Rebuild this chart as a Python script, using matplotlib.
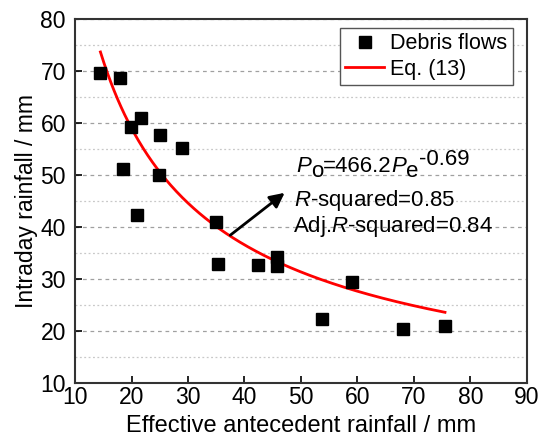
import numpy as np
import matplotlib
matplotlib.use("Agg")
import matplotlib.pyplot as plt
from matplotlib.ticker import MultipleLocator
from matplotlib.transforms import IdentityTransform

plt.rcParams['font.family'] = ['Liberation Sans', 'DejaVu Sans']
plt.rcParams['mathtext.fontset'] = 'custom'
plt.rcParams['mathtext.rm'] = 'Liberation Sans'
plt.rcParams['mathtext.it'] = 'Liberation Sans:italic'

# Data: effective antecedent rainfall (mm) vs intraday rainfall (mm)
pe = [14.4, 18.0, 19.9, 21.6, 25.0, 28.9, 18.5, 24.9, 20.9, 34.9,
      35.3, 42.4, 45.7, 45.7, 53.8, 59.0, 68.0, 75.5]
po = [69.6, 68.7, 59.3, 60.9, 57.7, 55.1, 51.1, 50.0, 42.3, 41.0,
      32.8, 32.6, 34.3, 32.5, 22.4, 29.5, 20.4, 21.0]

# Eq. (13): Po = a * Pe^b
a_coef = 466.2
b_coef = -0.69
fit_range = (14.5, 75.5)

fig = plt.figure(figsize=(5.46, 4.42), dpi=100)
ax = fig.add_axes([0.1374, 0.1335, 0.965 - 0.1374, 0.957 - 0.1335])

xf = np.linspace(fit_range[0], fit_range[1], 300)
yf = a_coef * xf ** b_coef

ax.plot(pe, po, 's', color='black', markersize=8, label='Debris flows', zorder=3)
ax.plot(xf, yf, '-', color='#ff0000', lw=2, label='Eq. (13)', zorder=2)

ax.set_xlim(10, 90)
ax.set_ylim(10, 80)
ax.xaxis.set_major_locator(MultipleLocator(10))
ax.yaxis.set_major_locator(MultipleLocator(10))
ax.yaxis.set_minor_locator(MultipleLocator(5))

ax.grid(axis='y', which='major', color='#a0a0a0', linestyle=(0, (3, 3)), lw=0.9, zorder=0)
ax.grid(axis='y', which='minor', color='#c8c8c8', linestyle=(0, (1.5, 2)), lw=0.9, zorder=0)
ax.tick_params(axis='both', which='major', direction='in', length=5, width=1.2,
               labelsize=16.5, colors='black', top=False, right=False)
ax.tick_params(axis='x', which='major', pad=2.5)
ax.tick_params(axis='y', which='major', pad=6.5)
ax.tick_params(axis='y', which='minor', length=0)
for s in ax.spines.values():
    s.set_color('#333333')
    s.set_linewidth(1.5)

ax.set_xlabel('Effective antecedent rainfall / mm', fontsize=17, labelpad=4)
ax.set_ylabel('Intraday rainfall / mm', fontsize=16.5, labelpad=2)

leg = ax.legend(loc='upper right', bbox_to_anchor=(0.969, 0.975), fontsize=15.5,
                frameon=True, fancybox=False, edgecolor='#555555', framealpha=1,
                handlelength=1.8, borderpad=0.25, labelspacing=0.2,
                handletextpad=0.3, borderaxespad=0.0)
leg.get_frame().set_linewidth(1.0)

ax.annotate('', xy=(47.5, 46.9), xytext=(37.1, 38.1),
            arrowprops=dict(arrowstyle='-|>', color='black', lw=2, mutation_scale=22))

ann_fs = 16
ax.text(48.8, 44.0, r'$\mathit{R}$-squared=0.85', fontsize=ann_fs, va='baseline', ha='left')
ax.text(48.6, 39.1, r'Adj.$\mathit{R}$-squared=0.84', fontsize=ann_fs, va='baseline', ha='left')

# Equation composed of pieces (sub/superscripts at full size, as in the reference)
fig.canvas.draw()
renderer = fig.canvas.get_renderer()
x0, y0 = ax.transData.transform((49.1, 50.5))
eq_parts = [('P', 'italic', 0.0), ('o', 'normal', -4.5), ('=466.2', 'normal', 0.0),
            ('P', 'italic', 0.0), ('e', 'normal', -4.5), ('-0.69', 'normal', 7.3)]
cur = x0
for txt, style, dy in eq_parts:
    t = fig.text(cur, y0 + dy, txt, transform=IdentityTransform(), fontsize=ann_fs,
                 fontstyle=style, va='baseline', ha='left')
    cur += t.get_window_extent(renderer).width

fig.savefig('out.png', dpi=100)
